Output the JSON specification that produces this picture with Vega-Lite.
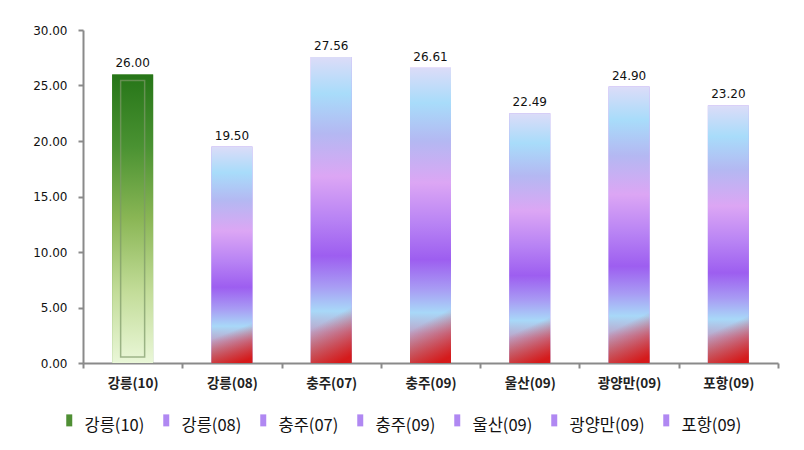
{
  "$schema": "https://vega.github.io/schema/vega-lite/v6.json",
  "autosize": "none",
  "width": 695,
  "height": 333,
  "padding": {"left": 83, "top": 30, "right": 26, "bottom": 87},
  "background": "white",
  "config": {"view": {"stroke": null}},
  "data": {
    "values": [
      {"name": "강릉(10)", "value": 26.00},
      {"name": "강릉(08)", "value": 19.50},
      {"name": "충주(07)", "value": 27.56},
      {"name": "충주(09)", "value": 26.61},
      {"name": "울산(09)", "value": 22.49},
      {"name": "광양만(09)", "value": 24.90},
      {"name": "포항(09)", "value": 23.20}
    ]
  },
  "encoding": {
    "x": {
      "field": "name", "type": "nominal", "sort": null,
      "scale": {"paddingInner": 0, "paddingOuter": 0},
      "axis": {
        "title": null, "labelAngle": 0, "domainColor": "#8a8a8a", "domainWidth": 2,
        "tickColor": "#8a8a8a", "tickWidth": 2, "tickSize": 5, "tickBand": "extent",
        "labelFont": "Noto Sans CJK KR", "labelFontSize": 13.5, "labelFontWeight": "bold",
        "labelColor": "#222", "labelPadding": 8
      }
    },
    "y": {
      "field": "value", "type": "quantitative", "stack": null,
      "scale": {"domain": [0, 30], "nice": false},
      "axis": {
        "title": null, "values": [0, 5, 10, 15, 20, 25, 30], "format": ".2f", "grid": false,
        "domainColor": "#8a8a8a", "domainWidth": 2, "tickColor": "#8a8a8a", "tickWidth": 2,
        "tickSize": 5, "labelFont": "DejaVu Sans", "labelFontSize": 12, "labelColor": "#111",
        "labelPadding": 11
      }
    }
  },
  "layer": [
    {
      "mark": {"type": "bar", "size": 41},
      "encoding": {
        "color": {
          "field": "name", "type": "nominal", "sort": null,
          "scale": {"range": ["#4f8f34", "#b088f2", "#b088f2", "#b088f2", "#b088f2", "#b088f2", "#b088f2"]},
          "legend": {
            "orient": "none", "legendX": -22, "legendY": 388, "direction": "horizontal",
            "columns": 7, "title": null, "labelFont": "Noto Sans CJK KR", "labelFontSize": 16.5,
            "labelColor": "#111", "labelLimit": 200, "symbolType": "M-0.5,-2H0.5V0H-0.5Z",
            "symbolSize": 144, "symbolStrokeWidth": 0, "columnPadding": 13, "labelOffset": 7,
            "symbolOpacity": 1
          }
        }
      }
    },
    {
      "transform": [{"filter": "datum.name === '강릉(10)'"}],
      "mark": {
        "type": "bar", "size": 41,
        "fill": {"gradient": "linear", "x1": 0, "y1": 0, "x2": 0, "y2": 1, "stops": [
          {"offset": 0, "color": "#267518"},
          {"offset": 0.25, "color": "#4a9232"},
          {"offset": 0.5, "color": "#8ab655"},
          {"offset": 0.75, "color": "#c2dc98"},
          {"offset": 1, "color": "#eaf7d8"}
        ]}
      }
    },
    {
      "transform": [{"filter": "datum.name === '강릉(10)'"}],
      "mark": {"type": "bar", "size": 24, "fill": "transparent", "stroke": "#7d9868", "strokeWidth": 1.5, "strokeOpacity": 0.7, "yOffset": 6, "y2Offset": -6},
      "encoding": {"y2": {"datum": 0}}
    },
    {
      "transform": [{"filter": "datum.name !== '강릉(10)'"}],
      "mark": {
        "type": "bar", "size": 41,
        "fill": {"gradient": "linear", "x1": 0, "y1": 0, "x2": 0, "y2": 1, "stops": [
          {"offset": 0, "color": "#dcdcf8"},
          {"offset": 0.12, "color": "#a8dcfa"},
          {"offset": 0.25, "color": "#b4b8f2"},
          {"offset": 0.39, "color": "#dca6f4"},
          {"offset": 0.53, "color": "#b883f4"},
          {"offset": 0.65, "color": "#9d5ef0"},
          {"offset": 0.75, "color": "#a89cf4"},
          {"offset": 0.83, "color": "#a8d8f8"},
          {"offset": 0.9, "color": "#bca4c8"},
          {"offset": 1, "color": "#b88894"}
        ]}
      }
    },
    {
      "transform": [{"filter": "datum.name !== '강릉(10)'"}],
      "mark": {
        "type": "bar", "size": 41,
        "fill": {"gradient": "linear", "x1": 0, "y1": 0.89, "x2": 0.012, "y2": 1.05, "stops": [
          {"offset": 0, "color": "rgba(215,20,20,0)"},
          {"offset": 1, "color": "rgba(215,20,20,0.95)"}
        ]}
      }
    },
    {
      "mark": {"type": "text", "dy": -7, "baseline": "alphabetic", "font": "DejaVu Sans", "fontSize": 12, "color": "#111"},
      "encoding": {"text": {"field": "value", "type": "quantitative", "format": ".2f"}}
    }
  ]
}
